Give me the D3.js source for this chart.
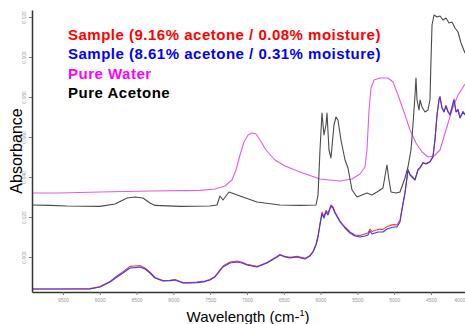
<!DOCTYPE html>
<html>
<head>
<meta charset="utf-8">
<script src="https://cdn.jsdelivr.net/npm/d3@7"></script>
<style>
  body { margin: 0; background: #fff; }
  svg { display: block; font-family: 'Liberation Sans', Arial, sans-serif; }
</style>
</head>
<body>
<svg id="chart" width="465" height="324"></svg>
<script>
// Ticks
const xTicks = [9500, 9000, 8500, 8000, 7500, 7000, 6500, 6000, 5500, 5000, 4500, 4000];
const yTicks = [0, 0.02, 0.04, 0.06, 0.08, 0.1, 0.12];

// Pure acetone (wavenumber, absorbance)
const acetoneWn = [9921, 9677, 9446, 8997, 8793, 8630, 8522, 8413, 8318, 8250, 7910, 7503, 7408, 7367, 7326, 7285, 7245, 7095, 6864, 6552,
  6280, 6062, 6035, 6008, 5981, 5954, 5927, 5913, 5886, 5859, 5818, 5791, 5764, 5723, 5668, 5628, 5573, 5505, 5438, 5370,
  5302, 5234, 5152, 5111, 5098, 5071, 5043, 4976, 4921, 4853, 4813, 4772, 4745, 4717, 4704, 4690, 4663, 4649, 4622, 4581,
  4541, 4514, 4500, 4486, 4459, 4418, 4378, 4337, 4296, 4255, 4215, 4174, 4133, 4092, 4038];
const acetoneAbs = [0.026, 0.0258, 0.0255, 0.0253, 0.0265, 0.0295, 0.030, 0.0295, 0.027, 0.0258, 0.0253, 0.0255, 0.026, 0.0305, 0.0285, 0.0305, 0.0325, 0.0305, 0.0275, 0.026,
  0.0258, 0.026, 0.031, 0.0535, 0.072, 0.061, 0.066, 0.072, 0.0535, 0.0495, 0.066, 0.070, 0.0685, 0.0585, 0.0485, 0.0445, 0.0335, 0.030, 0.031, 0.032,
  0.031, 0.0325, 0.0345, 0.0435, 0.046, 0.0385, 0.0325, 0.032, 0.0325, 0.0395, 0.045, 0.0535, 0.066, 0.081, 0.0895, 0.0785, 0.0735, 0.0785, 0.075, 0.0725,
  0.0735, 0.0785, 0.0985, 0.116, 0.121, 0.120, 0.1205, 0.1185, 0.1195, 0.117, 0.1175, 0.1145, 0.1125, 0.107, 0.102];

// Pure water
const waterWn = [9921, 9541, 8997, 8318, 7639, 7435, 7299, 7204, 7150, 7095, 7041, 6986, 6932, 6878, 6823, 6742, 6619, 6484, 6280, 6008,
  5736, 5573, 5465, 5397, 5370, 5342, 5315, 5274, 5193, 5084, 5016, 4948, 4867, 4785, 4704, 4622, 4541, 4459, 4378, 4296,
  4215, 4133, 4038];
const waterAbs = [0.032, 0.032, 0.0325, 0.033, 0.0333, 0.034, 0.0355, 0.0385, 0.0435, 0.051, 0.0575, 0.061, 0.062, 0.0615, 0.0585, 0.0535, 0.0485, 0.0455, 0.0425, 0.039,
  0.038, 0.039, 0.0415, 0.045, 0.0535, 0.0735, 0.0845, 0.0885, 0.0895, 0.0895, 0.0875, 0.081, 0.0725, 0.0635, 0.057, 0.0525, 0.050, 0.0505, 0.0535, 0.0635,
  0.0735, 0.081, 0.0865];

// Samples (same wavenumbers for both)
const sampleWn = [9921, 9500, 9133, 8997, 8861, 8766, 8685, 8630, 8590, 8522, 8454, 8386, 8318, 8250, 8141, 8046, 7978, 7870, 7774, 7679,
  7571, 7503, 7435, 7380, 7326, 7231, 7136, 7068, 7000, 6932, 6864, 6796, 6728, 6660, 6592, 6552, 6484, 6416, 6321, 6212,
  6144, 6103, 6062, 6035, 6008, 5981, 5954, 5927, 5900, 5859, 5832, 5805, 5736, 5668, 5600, 5532, 5465, 5397, 5356, 5329,
  5302, 5220, 5152, 5098, 5057, 5003, 4962, 4921, 4894, 4853, 4826, 4813, 4785, 4758, 4717, 4677, 4649, 4609, 4568, 4514,
  4473, 4446, 4418, 4391, 4378, 4351, 4323, 4296, 4269, 4242, 4215, 4188, 4160, 4133, 4106, 4065, 4038];
const sampleBlue = [-0.016, -0.016, -0.016, -0.015, -0.0125, -0.010, -0.008, -0.0065, -0.0055, -0.0053, -0.005, -0.006, -0.008, -0.0105, -0.012, -0.0118, -0.0115, -0.013, -0.013, -0.0128,
  -0.0123, -0.0115, -0.010, -0.0075, -0.005, -0.003, -0.0025, -0.003, -0.004, -0.0045, -0.005, -0.004, -0.003, -0.0015, 0.000, 0.001, 0.000, -0.0005, 0.000, -0.001,
  0.0005, 0.0025, 0.006, 0.010, 0.016, 0.0215, 0.0195, 0.0225, 0.021, 0.0255, 0.0245, 0.022, 0.0175, 0.0145, 0.012, 0.0105, 0.010, 0.0105, 0.011, 0.013,
  0.0115, 0.0125, 0.0125, 0.014, 0.0145, 0.015, 0.015, 0.0175, 0.0235, 0.032, 0.0395, 0.0435, 0.041, 0.040, 0.0385, 0.0435, 0.0445, 0.047, 0.0465, 0.0475,
  0.050, 0.0585, 0.071, 0.0785, 0.080, 0.0745, 0.0725, 0.0755, 0.0725, 0.071, 0.0745, 0.0785, 0.0725, 0.0735, 0.0695, 0.0725, 0.071];
const sampleRed = [-0.016, -0.016, -0.0158, -0.0148, -0.0122, -0.0095, -0.0073, -0.0058, -0.0047, -0.0045, -0.0043, -0.0055, -0.0076, -0.0102, -0.0118, -0.0116, -0.0113, -0.0128, -0.0128, -0.0125,
  -0.012, -0.0112, -0.0097, -0.0071, -0.0045, -0.0025, -0.002, -0.0026, -0.0036, -0.0042, -0.0047, -0.0037, -0.0027, -0.0012, 0.0003, 0.0013, 0.0003, -0.0002, 0.0003, -0.0007,
  0.0008, 0.0028, 0.0064, 0.0105, 0.0168, 0.0225, 0.0203, 0.0233, 0.0218, 0.026, 0.025, 0.0226, 0.018, 0.015, 0.0125, 0.011, 0.0107, 0.0115, 0.012, 0.014,
  0.0128, 0.0138, 0.0138, 0.0152, 0.0158, 0.0162, 0.016, 0.0185, 0.0242, 0.0325, 0.0398, 0.0438, 0.0413, 0.0403, 0.0388, 0.0438, 0.0448, 0.0473, 0.0468, 0.0478,
  0.0503, 0.0588, 0.0712, 0.0787, 0.0802, 0.0748, 0.0728, 0.0758, 0.0728, 0.0713, 0.0748, 0.0788, 0.0728, 0.0738, 0.0698, 0.0728, 0.0713];

// Legend
const legendLabels = ['Sample (9.16% acetone / 0.08% moisture)', 'Sample (8.61% acetone / 0.31% moisture)', 'Pure Water', 'Pure Acetone'];
const legendColors = ['#ff0000', '#0000ff', '#ff00ff', '#000000'];

const svg = d3.select('#chart');
const plot = { left: 32, right: 465, top: 10, bottom: 292 };

const x = d3.scaleLinear().domain([9921, 4038]).range([plot.left, plot.right]);
const y = d3.scaleLinear().domain([-0.0175, 0.1235]).range([plot.bottom, plot.top]);

const line = d3.line().x(d => x(d[0])).y(d => y(d[1]));

// Series, drawn back to front
const series = [
  { wn: waterWn, abs: waterAbs, color: '#e35ce3' },
  { wn: acetoneWn, abs: acetoneAbs, color: '#4a4a4a' },
  { wn: sampleWn, abs: sampleRed, color: '#f23a3a' },
  { wn: sampleWn, abs: sampleBlue, color: '#3a3af2' }
];

svg.append('g')
  .selectAll('path')
  .data(series)
  .enter().append('path')
  .attr('d', s => line(d3.zip(s.wn, s.abs)))
  .attr('fill', 'none')
  .attr('stroke', s => s.color)
  .attr('stroke-width', 1.1)
  .attr('stroke-linejoin', 'round');

// Y axis
const yAxis = svg.append('g')
  .attr('transform', `translate(${plot.left},0)`)
  .call(d3.axisLeft(y).tickValues(yTicks).tickFormat(d3.format('.3f')).tickSize(3).tickSizeOuter(0));
yAxis.select('.domain').attr('stroke', '#333').attr('stroke-width', 1.5);
yAxis.selectAll('.tick line').attr('stroke', '#777');
yAxis.selectAll('text')
  .attr('transform', 'rotate(-90)')
  .attr('x', 0)
  .attr('dy', 0)
  .attr('y', -6)
  .style('text-anchor', 'middle')
  .style('font-size', '5px')
  .attr('fill', '#999');

// X axis (last label pulled in so it stays inside the window)
const xAxis = svg.append('g')
  .attr('transform', `translate(0,${plot.bottom})`)
  .call(d3.axisBottom(x).tickValues(xTicks).tickFormat(d3.format('d')).tickSize(3).tickSizeOuter(0));
xAxis.select('.domain').attr('stroke', '#333').attr('stroke-width', 1.5);
xAxis.selectAll('.tick line').attr('stroke', '#777');
xAxis.selectAll('text')
  .attr('y', 6)
  .style('font-size', '5px')
  .attr('fill', '#999')
  .style('text-anchor', d => d === 4000 ? 'end' : 'middle')
  .attr('dx', d => d === 4000 ? -3 : null);

// Axis titles
svg.append('text')
  .attr('transform', 'translate(22,151) rotate(-90)')
  .attr('text-anchor', 'middle')
  .style('font-size', '16px')
  .text('Absorbance');

const xt = svg.append('text')
  .attr('x', 248)
  .attr('y', 322)
  .attr('text-anchor', 'middle')
  .style('font-size', '15px');
xt.append('tspan').text('Wavelength (cm-');
xt.append('tspan').attr('dy', -6).style('font-size', '9px').text('1');
xt.append('tspan').attr('dy', 6).text(')');

// Legend
svg.append('g')
  .selectAll('text')
  .data(legendLabels)
  .enter().append('text')
  .attr('x', 68)
  .attr('y', (d, i) => 40 + i * 19.3)
  .attr('fill', (d, i) => legendColors[i])
  .style('font-size', '15px')
  .style('letter-spacing', '0.5px')
  .style('font-weight', 'bold')
  .text(d => d);
</script>
</body>
</html>
